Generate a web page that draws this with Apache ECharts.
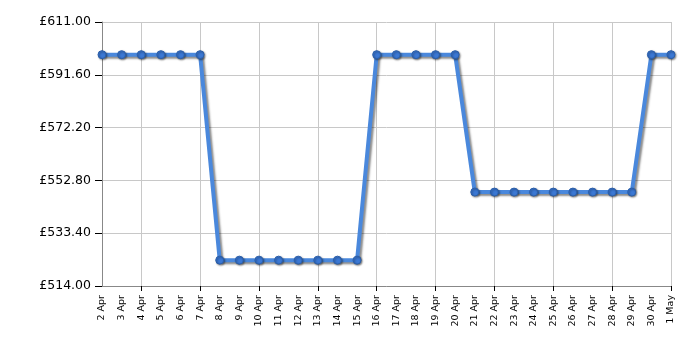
<!DOCTYPE html>
<html>
<head>
<meta charset="utf-8">
<script src="https://cdn.jsdelivr.net/npm/echarts@6/dist/echarts.min.js"></script>
<style>
  html, body { margin: 0; padding: 0; background: #fff; }
  #chart { width: 700px; height: 350px; }
</style>
</head>
<body>
<div id="chart"></div>
<script>
const days = [
	'2 Apr', '3 Apr', '4 Apr', '5 Apr', '6 Apr', '7 Apr', '8 Apr', '9 Apr', '10 Apr', '11 Apr',
	'12 Apr', '13 Apr', '14 Apr', '15 Apr', '16 Apr', '17 Apr', '18 Apr', '19 Apr', '20 Apr', '21 Apr',
	'22 Apr', '23 Apr', '24 Apr', '25 Apr', '26 Apr', '27 Apr', '28 Apr', '29 Apr', '30 Apr', '1 May',
]
const prices = [
	599, 599, 599, 599, 599, 599, 523.5, 523.5, 523.5, 523.5,
	523.5, 523.5, 523.5, 523.5, 599, 599, 599, 599, 599, 548.5,
	548.5, 548.5, 548.5, 548.5, 548.5, 548.5, 548.5, 548.5, 599, 599,
]
const yMin = 514
const yMax = 611
const yStep = 19.4

const chart = echarts.init(document.getElementById('chart'))

// ticks and grid lines every third day, ending on the last one
const everyThird = (idx) => (idx - 2) % 3 === 0

const option = {
	animation: false,
	grid: { left: 102, right: 29, top: 22, bottom: 64 },
	xAxis: {
		type: 'category',
		boundaryGap: false,
		data: days,
		axisLine: { lineStyle: { color: '#888', width: 1 } },
		axisTick: { show: true, interval: everyThird, length: 5, lineStyle: { color: '#000' } },
		axisLabel: {
			interval: 0,
			rotate: 90,
			color: '#000',
			fontFamily: 'DejaVu Sans',
			fontSize: 9.5,
			margin: 9,
		},
		splitLine: { show: true, interval: everyThird, lineStyle: { color: '#c8c8c8', width: 1 } },
	},
	yAxis: {
		type: 'value',
		min: yMin,
		max: yMax,
		interval: yStep,
		axisLine: { show: true, lineStyle: { color: '#888', width: 1 } },
		axisTick: { show: true, length: 7, lineStyle: { color: '#000' } },
		axisLabel: {
			color: '#000',
			fontFamily: 'DejaVu Sans',
			fontSize: 12.5,
			margin: 11,
			formatter: (v) => '£' + v.toFixed(2),
		},
		splitLine: { show: true, lineStyle: { color: '#c8c8c8', width: 1 } },
	},
	series: [
		{
			type: 'line',
			data: prices,
			symbol: 'circle',
			symbolSize: 8,
			lineStyle: {
				color: '#4a88dc',
				width: 4,
				shadowColor: 'rgba(0,0,0,0.45)',
				shadowBlur: 2,
				shadowOffsetX: 2,
				shadowOffsetY: 2,
			},
			itemStyle: {
				color: '#3b78d4',
				borderColor: '#2b5ea8',
				borderWidth: 1,
				shadowColor: 'rgba(0,0,0,0.4)',
				shadowBlur: 2,
				shadowOffsetX: 1,
				shadowOffsetY: 1,
			},
		},
	],
}
chart.setOption(option)
</script>
</body>
</html>
